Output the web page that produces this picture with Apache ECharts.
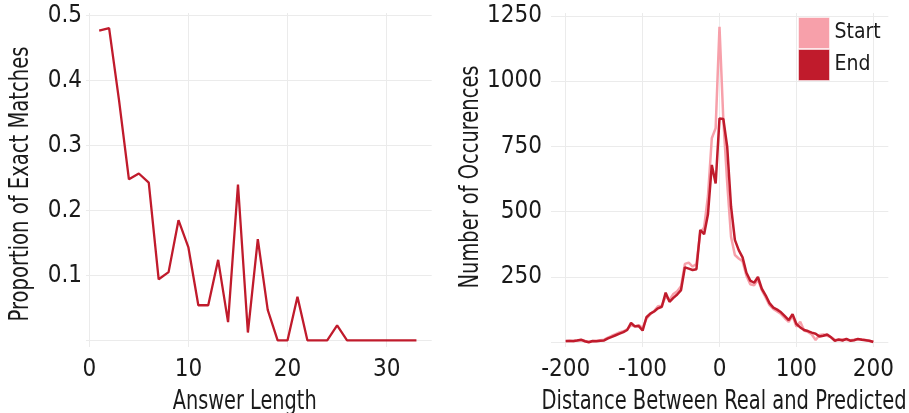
<!DOCTYPE html>
<html>
<head>
<meta charset="utf-8">
<script src="https://cdn.jsdelivr.net/npm/echarts@6/dist/echarts.min.js"></script>
<style>
  html, body { margin: 0; padding: 0; background: #ffffff; }
  #chart { width: 909px; height: 413px; }
</style>
</head>
<body>
<div id="chart"></div>
<script>
// Left panel: share of exact matches by answer length
const answerLengths = [1, 2, 3, 4, 5, 6, 7, 8, 9, 10, 11, 12, 13, 14, 15, 16, 17,
  18, 19, 20, 21, 22, 23, 24, 25, 26, 27, 28, 29, 30, 31, 32, 33];
const exactMatchShare = [0.477, 0.481, 0.37, 0.248, 0.257, 0.243, 0.094, 0.105,
  0.185, 0.143, 0.054, 0.054, 0.124, 0.028, 0.240, 0.012, 0.156, 0.047, 0, 0,
  0.067, 0, 0, 0, 0.023, 0, 0, 0, 0, 0, 0, 0, 0];

// Right panel: distance between real and predicted positions
const distances = [-200, -195, -190, -185, -180, -175, -170, -165, -160, -155,
  -150, -145, -140, -135, -130, -125, -120, -115, -110, -105, -100, -95, -90,
  -85, -80, -75, -70, -65, -60, -55, -50, -45, -40, -35, -30, -25, -20, -15,
  -10, -5, 0, 5, 10, 15, 20, 25, 30, 35, 40, 45, 50, 55, 60, 65, 70, 75, 80,
  85, 90, 95, 100, 105, 110, 115, 120, 125, 130, 135, 140, 145, 150, 155, 160,
  165, 170, 175, 180, 185, 190, 195, 200];
const startCounts = [4, 6, 4, 8, 8, 5, 2, 4, 6, 8, 10, 18, 25, 31, 38, 42, 50,
  66, 60, 66, 55, 90, 108, 120, 138, 140, 176, 162, 185, 195, 215, 300, 305,
  290, 300, 420, 440, 560, 781, 820, 1208, 850, 610, 404, 334, 321, 310, 255,
  222, 218, 240, 200, 172, 142, 128, 118, 108, 92, 78, 100, 60, 79, 45, 40,
  30, 9, 28, 30, 25, 20, 10, 8, 12, 9, 8, 10, 12, 12, 9, 5, 3];
const endCounts = [5, 5, 5, 7, 10, 4, 0, 5, 4, 6, 7, 15, 21, 27, 33, 39, 47,
  74, 61, 62, 45, 96, 110, 118, 130, 136, 190, 155, 170, 183, 200, 287, 282,
  277, 280, 430, 414, 490, 679, 608, 857, 855, 749, 520, 392, 353, 325, 266,
  236, 228, 250, 205, 180, 150, 133, 125, 115, 100, 85, 108, 70, 57, 47, 43,
  37, 33, 22, 25, 30, 19, 6, 11, 7, 13, 6, 8, 13, 10, 8, 6, 1];

// Tick values
const lengthTicks = [0, 10, 20, 30];
const shareGrid = [0, 0.1, 0.2, 0.3, 0.4, 0.5];
const shareLabels = [0.1, 0.2, 0.3, 0.4, 0.5];
const distanceTicks = [-200, -100, 0, 100, 200];
const countGrid = [0, 250, 500, 750, 1000, 1250];
const countLabels = [250, 500, 750, 1000, 1250];

const FONT = "'Liberation Sans Narrow', 'DejaVu Sans Condensed', 'Roboto', sans-serif";
const TEXT = '#1a1a1a';
const GRID = '#ebebeb';
const DARK = '#c01b2c';
const PINK = '#f7a0aa';

const pair = (xs, ys) => xs.map((x, i) => [x, ys[i]]);
const plain = v => String(v);

const tickLabel = { fontFamily: FONT, fontSize: 24, color: TEXT, formatter: plain };

// Axis titles are squeezed horizontally to a condensed width.
const measureCtx = document.createElement('canvas').getContext('2d');
function title(text, x, y, width, vertical) {
  const size = 26;
  measureCtx.font = size + 'px ' + FONT;
  const natural = measureCtx.measureText(text).width;
  return {
    type: 'text', x: x, y: y,
    rotation: vertical ? Math.PI / 2 : 0,
    scaleX: Math.min(1, width / natural),
    style: { text: text, fontFamily: FONT, fontSize: size, fill: TEXT,
      align: 'center', verticalAlign: 'middle' }
  };
}

const chart = echarts.init(document.getElementById('chart'), null, { renderer: 'canvas' });

chart.setOption({
  animation: false,
  backgroundColor: '#ffffff',
  grid: [
    { left: 86, right: 477.3, top: 13, bottom: 66 },
    { left: 551, right: 20.7, top: 13, bottom: 66 }
  ],
  xAxis: [
    {
      type: 'value', gridIndex: 0, min: -0.33, max: 34.54,
      axisLine: { show: false },
      axisTick: { show: false, customValues: lengthTicks },
      axisLabel: Object.assign({ customValues: lengthTicks, margin: 11 }, tickLabel),
      splitLine: { show: true, lineStyle: { color: GRID, width: 1 } }
    },
    {
      type: 'value', gridIndex: 1, min: -219.1, max: 219.5,
      axisLine: { show: false },
      axisTick: { show: false, customValues: distanceTicks },
      axisLabel: Object.assign({ customValues: distanceTicks, margin: 11 }, tickLabel),
      splitLine: { show: true, lineStyle: { color: GRID, width: 1 } }
    }
  ],
  yAxis: [
    {
      type: 'value', gridIndex: 0, min: -0.0103, max: 0.5042,
      axisLine: { show: false },
      axisTick: { show: false, customValues: shareGrid },
      axisLabel: Object.assign({ customValues: shareLabels, margin: 4,
        padding: [9, 0, 0, 0] }, tickLabel),
      splitLine: { show: true, lineStyle: { color: GRID, width: 1 } }
    },
    {
      type: 'value', gridIndex: 1, min: -18, max: 1260.7,
      axisLine: { show: false },
      axisTick: { show: false, customValues: countGrid },
      axisLabel: Object.assign({ customValues: countLabels, margin: 9,
        padding: [9, 0, 0, 0] }, tickLabel),
      splitLine: { show: true, lineStyle: { color: GRID, width: 1 } }
    }
  ],
  legend: {
    orient: 'vertical', left: 793, top: 12,
    itemWidth: 31, itemHeight: 31, itemGap: 0,
    icon: 'rect',
    data: ['Start', 'End'],
    textStyle: { fontFamily: FONT, fontSize: 21, color: TEXT, padding: [6, 0, 0, 0] },
    itemStyle: { borderColor: 'rgba(255,255,255,0.5)', borderWidth: 1 }
  },
  series: [
    {
      name: 'Exact', type: 'line', xAxisIndex: 0, yAxisIndex: 0,
      data: pair(answerLengths, exactMatchShare),
      showSymbol: false, lineStyle: { color: DARK, width: 2.3 }, itemStyle: { color: DARK }
    },
    {
      name: 'Start', type: 'line', xAxisIndex: 1, yAxisIndex: 1,
      data: pair(distances, startCounts),
      showSymbol: false, lineStyle: { color: PINK, width: 2.5 }, itemStyle: { color: PINK }
    },
    {
      name: 'End', type: 'line', xAxisIndex: 1, yAxisIndex: 1,
      data: pair(distances, endCounts),
      showSymbol: false, lineStyle: { color: DARK, width: 2.5 }, itemStyle: { color: DARK }
    }
  ],
  graphic: [
    title('Answer Length', 244.7, 402.5, 144, false),
    title('Distance Between Real and Predicted', 724, 402.5, 365, false),
    title('Proportion of Exact Matches', 21, 184, 275, true),
    title('Number of Occurences', 471, 177, 223, true)
  ]
});
</script>
</body>
</html>
